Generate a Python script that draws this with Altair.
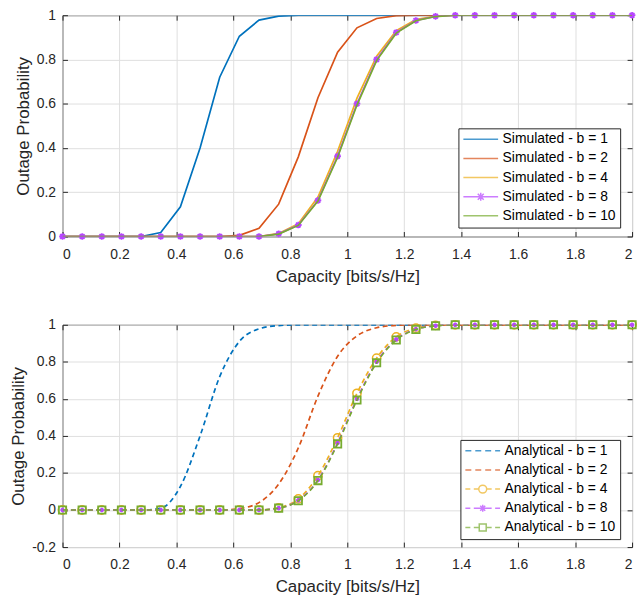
import altair as alt
import pandas as pd

# ---------------- data ----------------
capacity = [0.000, 0.069, 0.138, 0.207, 0.276, 0.345, 0.414, 0.483, 0.552, 0.621,
            0.690, 0.759, 0.828, 0.897, 0.966, 1.034, 1.103, 1.172, 1.241, 1.310,
            1.379, 1.448, 1.517, 1.586, 1.655, 1.724, 1.793, 1.862, 1.931, 2.000]

sim_b1 = [0, 0, 0, 0, 0, 0.018, 0.134, 0.400, 0.720, 0.905,
          0.978, 0.996, 1, 1, 1, 1, 1, 1, 1, 1,
          1, 1, 1, 1, 1, 1, 1, 1, 1, 1]
sim_b2 = [0, 0, 0, 0, 0, 0, 0, 0, 0, 0.005,
          0.037, 0.146, 0.360, 0.627, 0.833, 0.943, 0.985, 0.998, 1, 1,
          1, 1, 1, 1, 1, 1, 1, 1, 1, 1]
sim_b4 = [0, 0, 0, 0, 0, 0, 0, 0, 0, 0,
          0, 0.014, 0.058, 0.178, 0.385, 0.625, 0.815, 0.930, 0.980, 0.996,
          1, 1, 1, 1, 1, 1, 1, 1, 1, 1]
sim_b8 = [0, 0, 0, 0, 0, 0, 0, 0, 0, 0,
          0, 0.012, 0.052, 0.163, 0.363, 0.600, 0.800, 0.922, 0.976, 0.995,
          1, 1, 1, 1, 1, 1, 1, 1, 1, 1]
sim_b10 = [0, 0, 0, 0, 0, 0, 0, 0, 0, 0,
           0, 0.011, 0.050, 0.160, 0.358, 0.594, 0.795, 0.919, 0.975, 0.994,
           1, 1, 1, 1, 1, 1, 1, 1, 1, 1]

ana_b1 = [0, 0, 0, 0, 0, 0.010, 0.127, 0.400, 0.720, 0.910,
          0.978, 0.996, 1, 1, 1, 1, 1, 1, 1, 1,
          1, 1, 1, 1, 1, 1, 1, 1, 1, 1]
ana_b2 = [0, 0, 0, 0, 0, 0, 0, 0, 0, 0.008,
          0.040, 0.140, 0.335, 0.615, 0.830, 0.940, 0.984, 0.997, 1, 1,
          1, 1, 1, 1, 1, 1, 1, 1, 1, 1]
ana_b4 = [0, 0, 0, 0, 0, 0, 0, 0, 0, 0,
          0, 0.012, 0.060, 0.185, 0.390, 0.630, 0.820, 0.935, 0.982, 0.997,
          1, 1, 1, 1, 1, 1, 1, 1, 1, 1]
ana_b8 = [0, 0, 0, 0, 0, 0, 0, 0, 0, 0,
          0, 0.010, 0.052, 0.162, 0.362, 0.600, 0.800, 0.921, 0.976, 0.995,
          1, 1, 1, 1, 1, 1, 1, 1, 1, 1]
ana_b10 = [0, 0, 0, 0, 0, 0, 0, 0, 0, 0,
           0, 0.010, 0.050, 0.159, 0.357, 0.594, 0.795, 0.918, 0.975, 0.994,
           1, 1, 1, 1, 1, 1, 1, 1, 1, 1]

sim_names = ["Simulated - b = 1", "Simulated - b = 2", "Simulated - b = 4",
             "Simulated - b = 8", "Simulated - b = 10"]
ana_names = ["Analytical - b = 1", "Analytical - b = 2", "Analytical - b = 4",
             "Analytical - b = 8", "Analytical - b = 10"]
colors = ["#0072BD", "#D95319", "#EDB120", "#B746FF", "#77AC30"]

x_ticks = [0, 0.2, 0.4, 0.6, 0.8, 1.0, 1.2, 1.4, 1.6, 1.8, 2.0]
y_ticks_top = [0, 0.2, 0.4, 0.6, 0.8, 1.0]
y_ticks_bot = [-0.2, 0, 0.2, 0.4, 0.6, 0.8, 1.0]

FONT = "Liberation Sans"
TXT = "#262626"
W, H_TOP, H_BOT = 574, 223, 224

# legend symbol paths: symbolSize 100 -> 1 path unit = 5 px; line spans 35 px
P_SOLID = "M-3.5,0L3.5,0"
P_SOLID_STAR = ("M-3.5,0L3.5,0M0,-0.8L0,0.8M-0.6,-0.6L0.6,0.6M-0.6,0.6L0.6,-0.6")
P_DASH = "M-3.5,0L-2.3,0M-1.5,0L-0.3,0M0.5,0L1.7,0M2.5,0L3.5,0"
P_DASH_CIRC = ("M-3.5,0L-2.5,0M-1.8,0L-0.8,0M0.8,0L1.8,0M2.5,0L3.5,0"
               "M0.8,0A0.8,0.8,0,1,1,-0.8,0A0.8,0.8,0,1,1,0.8,0")
P_DASH_STAR = ("M-3.5,0L-2.5,0M-1.8,0L-0.7,0M0.7,0L1.8,0M2.5,0L3.5,0"
               "M0,-0.7L0,0.7M-0.7,0L0.7,0M-0.5,-0.5L0.5,0.5M-0.5,0.5L0.5,-0.5")
P_DASH_SQ = ("M-3.5,0L-2.5,0M-1.8,0L-0.7,0M0.7,0L1.8,0M2.5,0L3.5,0"
             "M-0.7,-0.7L0.7,-0.7L0.7,0.7L-0.7,0.7Z")
STAR = "M0,-1L0,1M-1,0L1,0M-0.7,-0.7L0.7,0.7M-0.7,0.7L0.7,-0.7"

LBL = "replace(format(datum.value,'~g'),'\u2212','-')"
TICK = dict(ticks=True, tickSize=5, tickColor=TXT, tickWidth=1, offset=-5)


def frame(vals):
    return pd.DataFrame({"x": capacity, "y": vals})


def xenc():
    return alt.X("x:Q", scale=alt.Scale(domain=[0, 2], nice=False),
                 axis=alt.Axis(values=x_ticks, title="Capacity [bits/s/Hz]", labelExpr=LBL,
                               orient="bottom", labelPadding=11, **TICK))


def yenc(dom, ticks):
    return alt.Y("y:Q", scale=alt.Scale(domain=dom, nice=False),
                 axis=alt.Axis(values=ticks, title="Outage Probability", labelExpr=LBL,
                               orient="left", labelPadding=7, **TICK))


def tick_layer(vals, dom, ticks):
    # extra unlabeled axes on the top and right sides (inward ticks, as in the original)
    return alt.Chart(frame(vals)).mark_line(opacity=0).encode(
        x=alt.X("x:Q", scale=alt.Scale(domain=[0, 2], nice=False),
                axis=alt.Axis(values=x_ticks, orient="top", labels=False, grid=False,
                              title=None, **TICK)),
        y=alt.Y("y:Q", scale=alt.Scale(domain=dom, nice=False),
                axis=alt.Axis(values=ticks, orient="right", labels=False, grid=False,
                              title=None, **TICK)),
    )


def line(vals, color, dom, ticks, dash=None, interp=None):
    kw = dict(color=color, strokeWidth=1.7, clip=True)
    if dash:
        kw["strokeDash"] = dash
    if interp:
        kw["interpolate"] = interp
    return alt.Chart(frame(vals)).mark_line(**kw).encode(x=xenc(), y=yenc(dom, ticks))


def points(vals, color, shape, size, dom, ticks, sw=1.5):
    return alt.Chart(frame(vals)).mark_point(
        shape=shape, size=size, filled=False, color=color, strokeWidth=sw, opacity=1
    ).encode(x=xenc(), y=yenc(dom, ticks))


def legend_layer(names, paths, lx, ly):
    leg = alt.Legend(title=None, orient="none", legendX=lx, legendY=ly,
                     labelFont=FONT, labelFontSize=14, labelColor="#000000",
                     symbolSize=100, symbolStrokeWidth=1.5, symbolFillColor="transparent",
                     symbolOffset=11.5, labelOffset=15,
                     strokeColor=TXT, fillColor="white", padding=4,
                     rowPadding=5.3, labelLimit=300, cornerRadius=0)
    df = pd.DataFrame({"series": names})
    return alt.Chart(df).mark_point(size=0, filled=False, strokeWidth=1.5).encode(
        color=alt.Color("series:N", scale=alt.Scale(domain=names, range=colors), legend=leg),
        shape=alt.Shape("series:N", scale=alt.Scale(domain=names, range=paths), legend=leg),
    )


dt, tt = [0, 1], y_ticks_top
top_data = alt.layer(
    line(sim_b1, colors[0], dt, tt),
    line(sim_b2, colors[1], dt, tt),
    line(sim_b4, colors[2], dt, tt),
    line(sim_b8, colors[3], dt, tt),
    points(sim_b8, colors[3], STAR, 45, dt, tt, 1.8),
    line(sim_b10, colors[4], dt, tt),
    legend_layer(sim_names, [P_SOLID, P_SOLID, P_SOLID, P_SOLID_STAR, P_SOLID], 399, 114),
)
top = alt.layer(top_data, tick_layer(sim_b1, dt, tt)).resolve_axis(
    x="independent", y="independent"
).properties(width=W, height=H_TOP)

db, tb = [-0.2, 1], y_ticks_bot
DASH = [5, 3.5]
bot_data = alt.layer(
    line(ana_b1, colors[0], db, tb, DASH, "monotone"),
    line(ana_b2, colors[1], db, tb, DASH, "monotone"),
    line(ana_b4, colors[2], db, tb, DASH, "monotone"),
    points(ana_b4, colors[2], "circle", 70, db, tb),
    line(ana_b8, colors[3], db, tb, DASH, "monotone"),
    points(ana_b8, colors[3], STAR, 20, db, tb),
    line(ana_b10, colors[4], db, tb, DASH, "monotone"),
    points(ana_b10, colors[4], "square", 55, db, tb, 1.8),
    legend_layer(ana_names, [P_DASH, P_DASH, P_DASH_CIRC, P_DASH_STAR, P_DASH_SQ], 401, 116),
)
bot = alt.layer(bot_data, tick_layer(ana_b1, db, tb)).resolve_axis(
    x="independent", y="independent"
).properties(width=W, height=H_BOT)

chart = alt.vconcat(top, bot, spacing=32).resolve_scale(
    color="independent", shape="independent"
).resolve_legend(
    color="independent", shape="independent"
).properties(
    padding={"left": 9, "top": 5, "right": 0, "bottom": 0},
    background="white",
).configure_view(
    stroke=TXT, strokeWidth=1
).configure_axis(
    labelFont=FONT, labelFontSize=14, labelColor=TXT,
    titleFont=FONT, titleFontSize=17, titleFontWeight="normal", titleColor=TXT,
    gridColor="#DFDFDF", gridWidth=1, domain=False,
    titlePadding=4,
).configure_axisX(
    titlePadding=7,
)

chart.save("out.html", embed_options={"renderer": "svg", "actions": False})
